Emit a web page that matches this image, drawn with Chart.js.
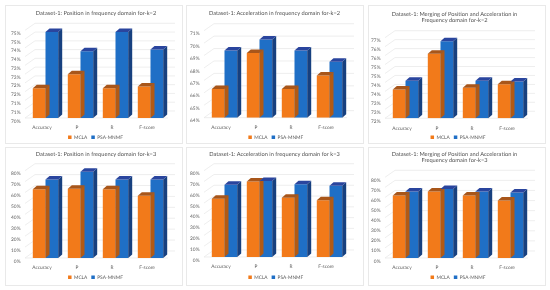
<!DOCTYPE html>
<html><head><meta charset="utf-8">
<style>
html,body{margin:0;padding:0;background:#fff;width:550px;height:290px;overflow:hidden}
.card{position:absolute;background:#fff;border:1px solid #e9e9e9;box-sizing:border-box}
canvas{display:block}
</style>
<script src="https://cdn.jsdelivr.net/npm/chart.js@4/dist/chart.umd.js"></script>
</head><body>
<script>
const categories = ["Accuracy","P","R","F-score"];
const seriesNames = ["MCLA","PSA-MNMF"];
const titles = [
  "Dataset-1: Position in frequency domain for-k=2",
  "Dataset-1: Acceleration in frequency domain for-k=2",
  ["Dataset-1: Merging of Position and Acceleration in","Frequency domain for-k=2"],
  "Dataset-1: Position in frequency domain for-k=3",
  "Dataset-1: Acceleration in frequency domain for k=3",
  ["Dataset-1: Merging of Position and Acceleration in","Frequency domain for-k=3"]
];
const mcla1 = [71.7,72.5,71.7,71.8];
const psa1  = [74.9,73.8,74.9,73.9];
const mcla2 = [66.3,69.2,66.3,67.4];
const psa2  = [69.4,70.3,69.4,68.5];
const mcla3 = [73.6,75.6,73.7,73.9];
const psa3  = [74.1,76.3,74.1,74.05];
const mcla4 = [63,63.5,63,57];
const psa4  = [72,79,72,72];
const mcla5 = [54,70,55,52.5];
const psa5  = [67,70.5,67.5,66];
const mcla6 = [62,66,62,57];
const psa6  = [66,68.5,66,65];
const yMin = [70,64,72,0,0,0];
const yMax = [75,71,76.5,80,80,80];
const yStep = [0.5,1,0.5,10,10,10];

const panels = [
 {x:5,  y:5,  w:178,h:139, l:22, r:162, t:24.3, b:111,   tp:4.5, lt:124, td:9,   ld:8.5},
 {x:186,y:5,  w:178,h:139, l:20, r:160, t:24.7, b:110.7, tp:4.5, lt:124, td:7.5, ld:8.8},
 {x:368,y:5,  w:178,h:139, l:19, r:159, t:31.7, b:111.3, tp:5,   lt:124, td:6,   ld:9.5},
 {x:5,  y:147,w:178,h:139, l:22, r:162, t:22.7, b:109,   tp:3,   lt:122, td:9,   ld:8.5},
 {x:186,y:147,w:178,h:139, l:20, r:160, t:22.7, b:108,   tp:3,   lt:122, td:7.5, ld:8.8},
 {x:368,y:147,w:178,h:139, l:19, r:159, t:29.3, b:109,   tp:3,   lt:122, td:6,   ld:9.5}
];
const DX = 4, DY = 3.5, WX = 7, WY = 7;
const orange = {front:"#F27A1A",top:"#A8561A",side:"#B25A14"};
const blue   = {front:"#1F6FC6",top:"#2A459E",side:"#17407F"};
const FONT = "Lato, 'Open Sans', sans-serif";
const TITLE_SIZE = 5.7, TITLE_LH = 1.11, TICK_SIZE = 4.8, LEG_PAD = 4;
// legend box height as Chart.js measures it: line height + padding + 10
const LEGEND_H = TICK_SIZE*1.2 + LEG_PAD + 10;

const walls = {
  id:"walls",
  beforeDraw(c){ c.ctx.textRendering="geometricPrecision"; },
  afterLayout(c){
    const p=c.options.plugins.walls;
    c.titleBlock.left+=p.td; c.titleBlock.right+=p.td;
    c.legend.left+=p.ld; c.legend.right+=p.ld;
  },
  beforeDatasetsDraw(c){
    const {ctx,chartArea:a,scales:{y}} = c;
    ctx.save();
    ctx.strokeStyle="#e6e6e6"; ctx.lineWidth=0.7;
    y.ticks.forEach(t=>{
      const py=y.getPixelForValue(t.value);
      ctx.beginPath();
      ctx.moveTo(a.left-3,py);
      ctx.lineTo(a.left+WX,py-WY);
      ctx.lineTo(a.right+WX,py-WY);
      ctx.stroke();
    });
    ctx.beginPath();
    ctx.moveTo(a.left-3,a.bottom);
    ctx.lineTo(a.right,a.bottom);
    ctx.stroke();
    ctx.restore();
  },
  afterDatasetsDraw(c){
    const ctx=c.ctx;
    c.data.datasets.forEach((ds,i)=>{
      const pal=i===0?orange:blue;
      c.getDatasetMeta(i).data.forEach(b=>{
        const p=b.getProps(["x","y","base","width"],true);
        const L=p.x-p.width/2,R=p.x+p.width/2,T=p.y,B=p.base;
        ctx.save();
        ctx.fillStyle=pal.side;
        ctx.beginPath();ctx.moveTo(R,T);ctx.lineTo(R+DX,T-DY);ctx.lineTo(R+DX,B-DY);ctx.lineTo(R,B);ctx.closePath();ctx.fill();
        ctx.fillStyle=pal.top;
        ctx.beginPath();ctx.moveTo(L,T);ctx.lineTo(L+DX,T-DY);ctx.lineTo(R+DX,T-DY);ctx.lineTo(R,T);ctx.closePath();ctx.fill();
        ctx.restore();
      });
    });
  }
};

const allM=[mcla1,mcla2,mcla3,mcla4,mcla5,mcla6];
const allP=[psa1,psa2,psa3,psa4,psa5,psa6];

panels.forEach((p,i)=>{
  const card=document.createElement("div");
  card.className="card";
  card.style.cssText=`left:${p.x}px;top:${p.y}px;width:${p.w}px;height:${p.h}px`;
  const cv=document.createElement("canvas");
  const W=p.w-2,H=p.h-2;
  cv.width=W;cv.height=H;
  card.appendChild(cv);document.body.appendChild(card);
  const lines=Array.isArray(titles[i])?titles[i].length:1;
  const titleBottom=p.t-p.tp-lines*TITLE_SIZE*TITLE_LH;
  const negBottom=p.lt+LEGEND_H-H;
  new Chart(cv,{
    type:"bar",
    data:{labels:categories,datasets:[
      {label:seriesNames[0],data:allM[i],base:yMin[i],backgroundColor:orange.front,categoryPercentage:25.4/35,barPercentage:1},
      {label:seriesNames[1],data:allP[i],base:yMin[i],backgroundColor:blue.front,categoryPercentage:25.4/35,barPercentage:1}
    ]},
    options:{
      responsive:false,animation:false,devicePixelRatio:1,
      layout:{padding:{left:0,right:W-p.r,top:0,bottom:-negBottom}},
      plugins:{
        walls:{td:p.td,ld:p.ld},
        title:{display:true,text:titles[i],color:"#505050",font:{family:FONT,size:TITLE_SIZE,weight:"normal",lineHeight:TITLE_LH},
               padding:{top:p.tp,bottom:titleBottom}},
        legend:{position:"bottom",labels:{boxWidth:3.5,boxHeight:3.5,color:"#595959",font:{family:FONT,size:TICK_SIZE},padding:LEG_PAD}},
        tooltip:{enabled:false}
      },
      scales:{
        x:{grid:{display:false,drawTicks:false},border:{display:false},
           ticks:{color:"#595959",font:{family:FONT,size:TICK_SIZE},maxRotation:0,padding:7,labelOffset:-3.5},
           afterFit(s){s.height=p.lt-p.b;}},
        y:{min:yMin[i],max:yMax[i],grid:{display:false,drawTicks:false},border:{display:false},
           afterFit(s){s.width=p.l;},
           ticks:{stepSize:yStep[i],color:"#595959",font:{family:FONT,size:TICK_SIZE},padding:7.5,labelOffset:3,autoSkip:false,
                  callback:v=>Math.round(v)+"%"}}
      }
    },
    plugins:[walls]
  });
});
</script>
</body></html>
